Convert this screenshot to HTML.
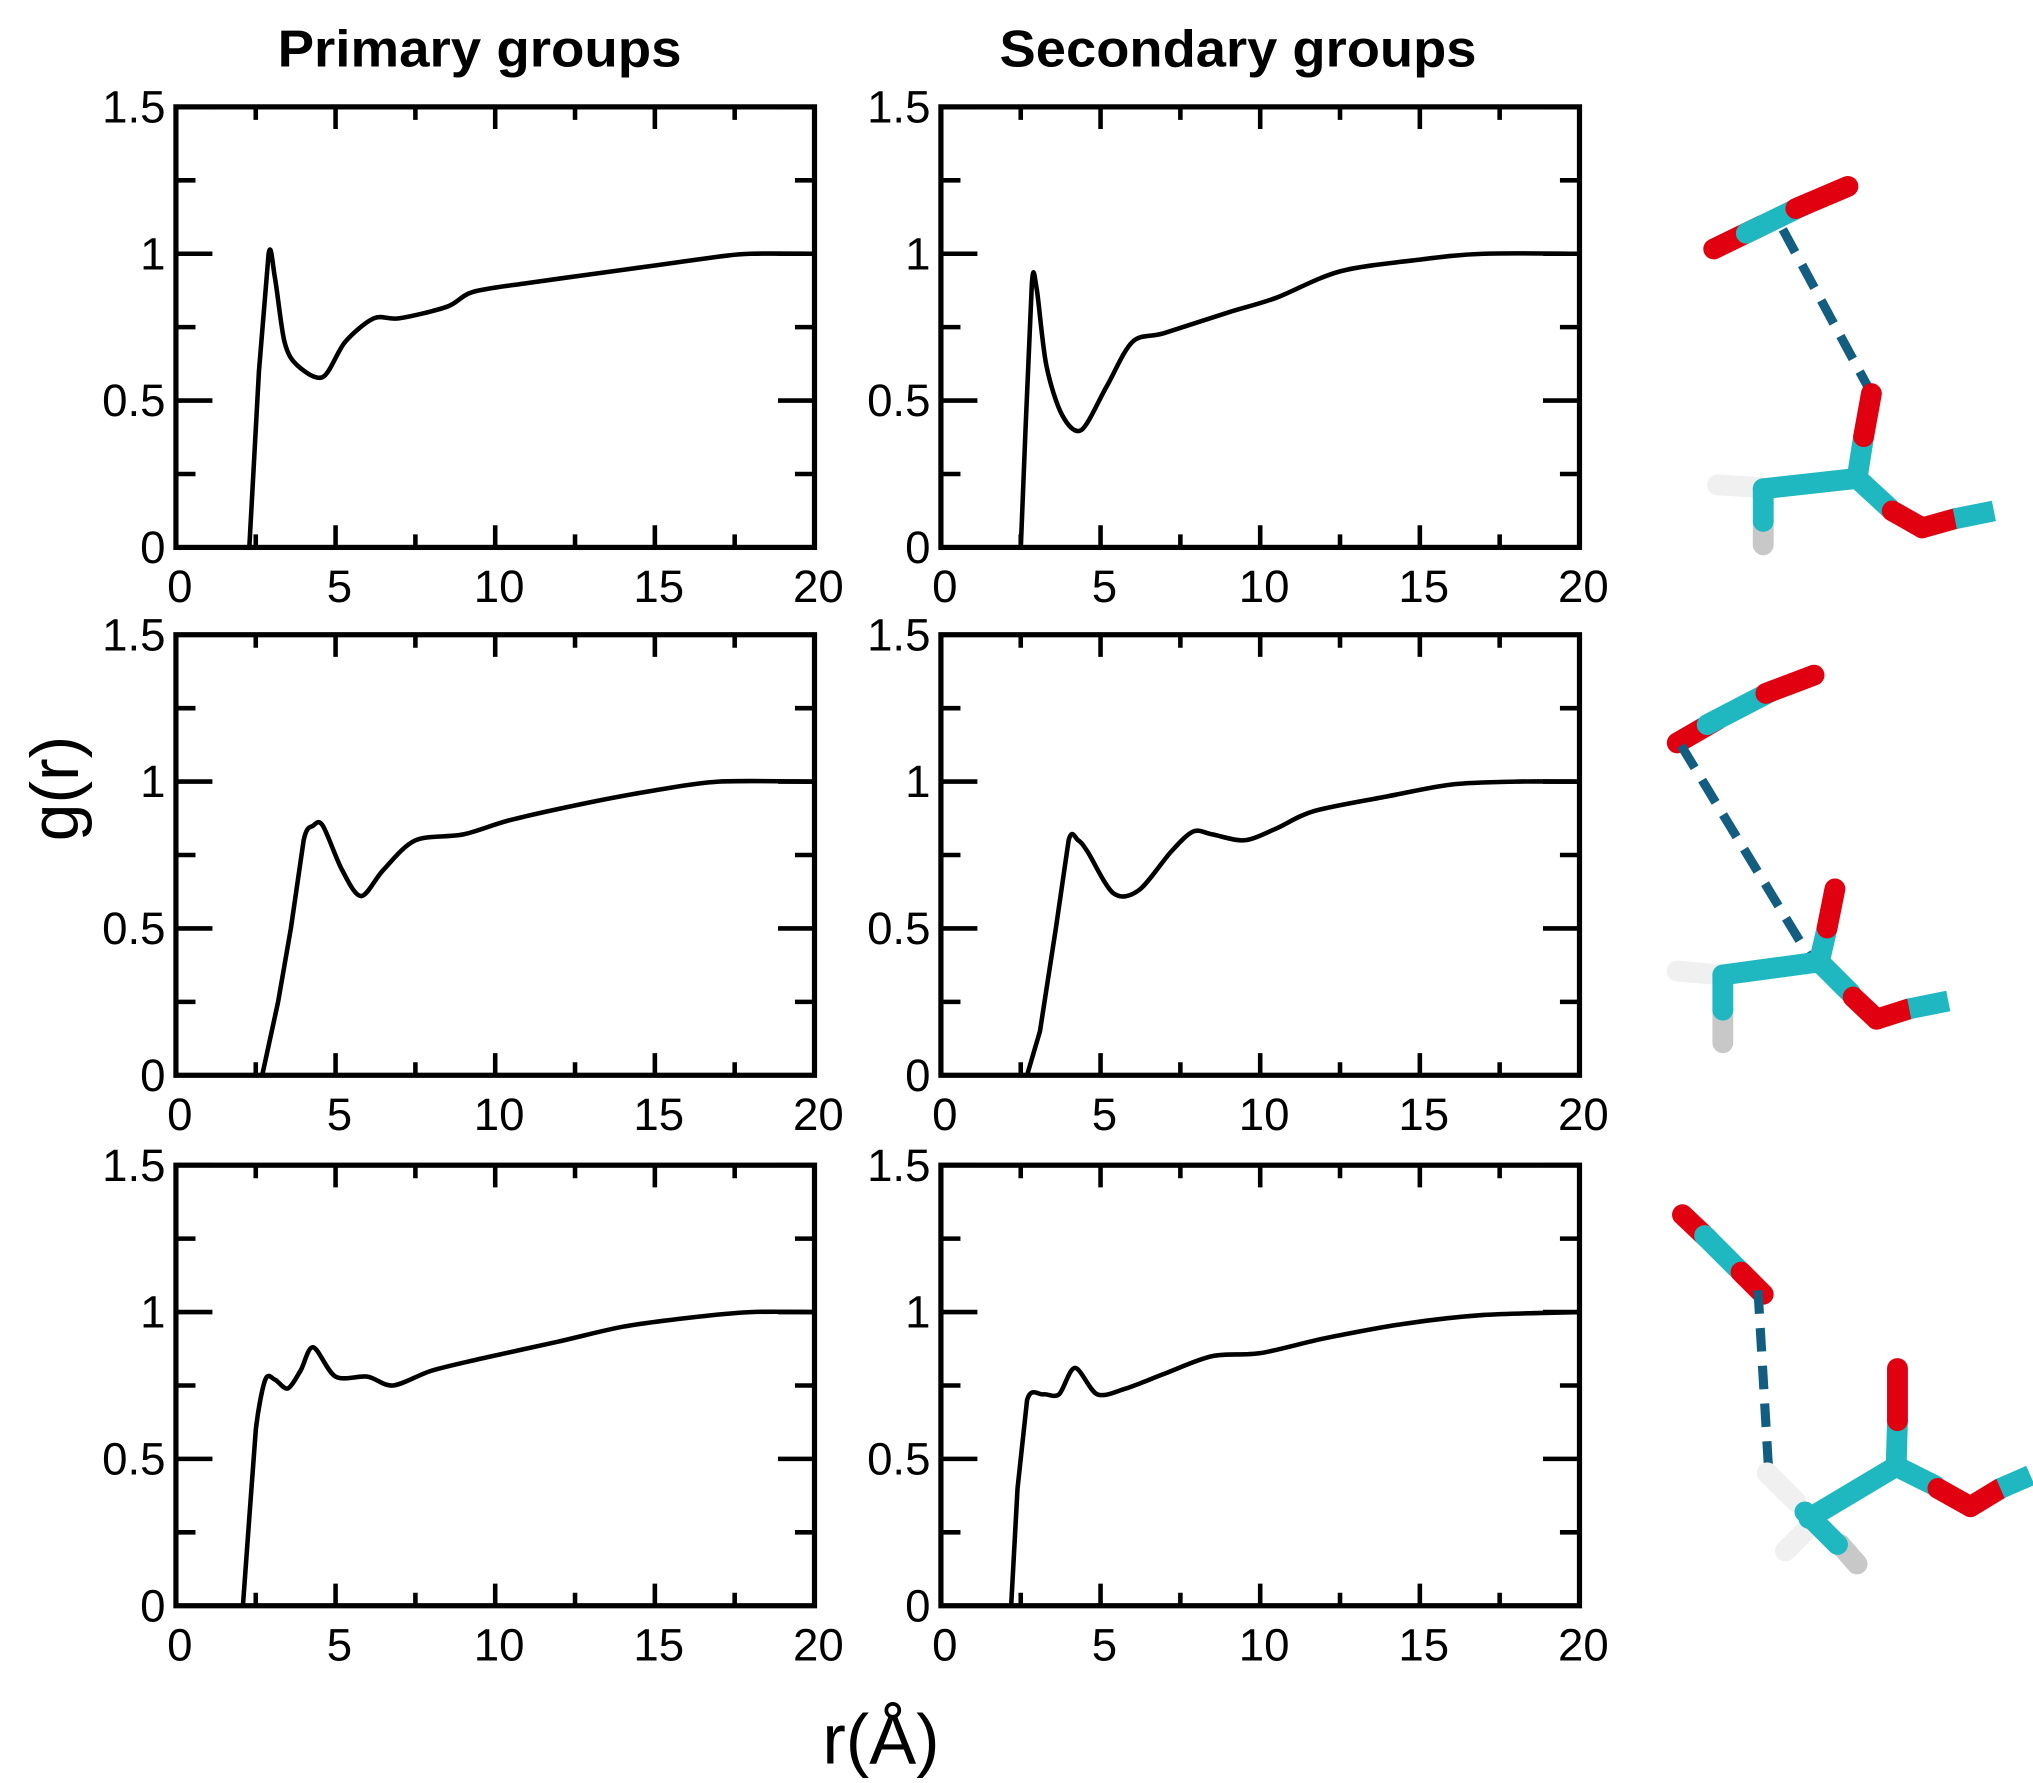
<!DOCTYPE html>
<html><head><meta charset="utf-8"><style>
html,body{margin:0;padding:0;background:#fff;}
svg{display:block;}
text{font-family:"Liberation Sans",sans-serif;}
</style></head><body>
<svg id="s" width="2033" height="1783" viewBox="0 0 1560 1368" preserveAspectRatio="none" xmlns="http://www.w3.org/2000/svg">
<text x="368" y="51" font-size="40" font-weight="bold" text-anchor="middle" textLength="310" lengthAdjust="spacingAndGlyphs">Primary groups</text>
<text x="950" y="51" font-size="40" font-weight="bold" text-anchor="middle" textLength="366" lengthAdjust="spacingAndGlyphs">Secondary groups</text>
<text x="0" y="0" font-size="52" text-anchor="middle" transform="translate(60,605) rotate(-90)">g(r)</text>
<text x="676" y="1353" font-size="54" text-anchor="middle">r(Å)</text>
<g id="plots"></g>
<g id="mol" stroke-linecap="round" fill="none">
<line x1="1315" y1="191" x2="1352" y2="173" stroke="#e00010" stroke-width="16"/>
<line x1="1340" y1="179" x2="1385" y2="157" stroke="#20b8c0" stroke-width="16"/>
<line x1="1378" y1="160" x2="1418" y2="143" stroke="#e00010" stroke-width="16"/>
<line x1="1368" y1="176" x2="1434" y2="298" stroke="#135e80" stroke-width="7" stroke-dasharray="20,11" stroke-linecap="butt"/>
<line x1="1318" y1="372" x2="1350" y2="374" stroke="#f0f0f0" stroke-width="16"/>
<line x1="1353" y1="400" x2="1353" y2="418" stroke="#c8c8c8" stroke-width="16"/>
<line x1="1353" y1="375" x2="1353" y2="400" stroke="#20b8c0" stroke-width="16"/>
<line x1="1353" y1="375" x2="1425" y2="367" stroke="#20b8c0" stroke-width="16"/>
<line x1="1425" y1="367" x2="1430" y2="335" stroke="#20b8c0" stroke-width="16"/>
<line x1="1430" y1="335" x2="1436" y2="302" stroke="#e00010" stroke-width="16"/>
<line x1="1425" y1="367" x2="1450" y2="390" stroke="#20b8c0" stroke-width="16"/>
<line x1="1452" y1="392" x2="1475" y2="405" stroke="#e00010" stroke-width="16"/>
<line x1="1475" y1="405" x2="1500" y2="398" stroke="#e00010" stroke-width="16"/>
<line x1="1500" y1="398" x2="1530" y2="392" stroke="#20b8c0" stroke-width="16" stroke-linecap="butt"/>
<line x1="1287" y1="570" x2="1318" y2="552" stroke="#e00010" stroke-width="16"/>
<line x1="1310" y1="556" x2="1360" y2="530" stroke="#20b8c0" stroke-width="16"/>
<line x1="1355" y1="532" x2="1392" y2="518" stroke="#e00010" stroke-width="16"/>
<line x1="1290" y1="572" x2="1392" y2="740" stroke="#135e80" stroke-width="7" stroke-dasharray="20,11" stroke-linecap="butt"/>
<line x1="1287" y1="745" x2="1320" y2="748" stroke="#f0f0f0" stroke-width="16"/>
<line x1="1322" y1="775" x2="1322" y2="800" stroke="#c8c8c8" stroke-width="16"/>
<line x1="1322" y1="748" x2="1322" y2="775" stroke="#20b8c0" stroke-width="16"/>
<line x1="1322" y1="748" x2="1396" y2="738" stroke="#20b8c0" stroke-width="16"/>
<line x1="1396" y1="738" x2="1402" y2="712" stroke="#20b8c0" stroke-width="16"/>
<line x1="1402" y1="712" x2="1408" y2="682" stroke="#e00010" stroke-width="16"/>
<line x1="1396" y1="738" x2="1420" y2="762" stroke="#20b8c0" stroke-width="16"/>
<line x1="1422" y1="765" x2="1440" y2="782" stroke="#e00010" stroke-width="16"/>
<line x1="1440" y1="782" x2="1465" y2="774" stroke="#e00010" stroke-width="16"/>
<line x1="1465" y1="774" x2="1495" y2="768" stroke="#20b8c0" stroke-width="16" stroke-linecap="butt"/>
<line x1="1291" y1="932" x2="1310" y2="950" stroke="#e00010" stroke-width="16"/>
<line x1="1308" y1="948" x2="1338" y2="978" stroke="#20b8c0" stroke-width="16"/>
<line x1="1336" y1="976" x2="1353" y2="993" stroke="#e00010" stroke-width="16"/>
<line x1="1349" y1="990" x2="1357" y2="1126" stroke="#135e80" stroke-width="7" stroke-dasharray="18,11" stroke-linecap="butt"/>
<line x1="1356" y1="1130" x2="1378" y2="1152" stroke="#f0f0f0" stroke-width="16"/>
<line x1="1370" y1="1190" x2="1385" y2="1175" stroke="#f0f0f0" stroke-width="16"/>
<line x1="1412" y1="1185" x2="1425" y2="1200" stroke="#c8c8c8" stroke-width="16"/>
<line x1="1385" y1="1160" x2="1410" y2="1185" stroke="#20b8c0" stroke-width="16"/>
<line x1="1388" y1="1165" x2="1455" y2="1125" stroke="#20b8c0" stroke-width="16"/>
<line x1="1455" y1="1125" x2="1456" y2="1090" stroke="#20b8c0" stroke-width="16"/>
<line x1="1456" y1="1090" x2="1456" y2="1050" stroke="#e00010" stroke-width="16"/>
<line x1="1455" y1="1125" x2="1485" y2="1140" stroke="#20b8c0" stroke-width="16"/>
<line x1="1487" y1="1142" x2="1512" y2="1156" stroke="#e00010" stroke-width="16"/>
<line x1="1512" y1="1156" x2="1535" y2="1142" stroke="#e00010" stroke-width="16"/>
<line x1="1535" y1="1142" x2="1558" y2="1132" stroke="#20b8c0" stroke-width="16" stroke-linecap="butt"/>
</g>
</svg>
<script>
var NS="http://www.w3.org/2000/svg";
var g=document.getElementById("plots");
var cols=[135,722], rows=[82,487,894], W=490, H=338;
// [data, number of leading linear segments]
var data=[
 [[[0,0],[2.3,0],[2.6,0.6],[2.9,1.0],[3.1,0.92],[3.4,0.7],[3.8,0.62],[4.6,0.58],[5.3,0.7],[6.2,0.78],[7,0.78],[8.5,0.82],[9.3,0.87],[11,0.9],[13,0.93],[15,0.96],[17,0.99],[18,1.0],[20,1.0]],3],
 [[[0,0],[2.5,0],[2.65,0.4],[2.85,0.9],[3.0,0.88],[3.3,0.62],[3.8,0.45],[4.4,0.4],[5.2,0.55],[6,0.7],[7,0.73],[9,0.8],[10.5,0.85],[12.5,0.94],[15,0.98],[17,1.0],[20,1.0]],3],
 [[[0,0],[2.7,0],[3.2,0.25],[3.6,0.5],[4.0,0.8],[4.3,0.85],[4.6,0.85],[5.2,0.7],[5.8,0.61],[6.5,0.7],[7.5,0.8],[9,0.82],[10.5,0.87],[13,0.93],[15,0.97],[17,1.0],[20,1.0]],4],
 [[[0,0],[2.7,0],[3.1,0.15],[3.6,0.5],[4.0,0.8],[4.3,0.8],[4.6,0.76],[5.4,0.62],[6.2,0.63],[7.2,0.76],[7.9,0.83],[8.5,0.82],[9.5,0.8],[10.5,0.84],[11.7,0.9],[14,0.95],[16,0.99],[18,1.0],[20,1.0]],4],
 [[[0,0],[2.1,0],[2.3,0.3],[2.5,0.6],[2.8,0.77],[3.1,0.77],[3.5,0.74],[3.9,0.8],[4.3,0.88],[5,0.78],[6,0.78],[6.8,0.75],[8,0.8],[9.5,0.84],[12,0.9],[14,0.95],[16,0.98],[18,1.0],[20,1.0]],3],
 [[[0,0],[2.2,0],[2.4,0.4],[2.7,0.7],[3.2,0.72],[3.7,0.72],[4.2,0.81],[4.9,0.72],[5.8,0.74],[7,0.79],[8.5,0.85],[10,0.86],[12,0.91],[14.5,0.96],[17,0.99],[20,1.0]],3]
];
function el(n,a,t){var e=document.createElementNS(NS,n);for(var k in a)e.setAttribute(k,a[k]);if(t!==undefined)e.textContent=t;g.appendChild(e);return e;}
var idx=0;
for(var r=0;r<3;r++)for(var c=0;c<2;c++){
 var X0=cols[c],Y0=rows[r];
 var sx=function(v){return X0+v*W/20;}, sy=function(v){return Y0+H-v*H/1.5;};
 var d="";
 for(var i=0;i<=8;i++){var x=X0+i*W/8, L=(i%2==0)?17:10;
  d+="M"+x+" "+(Y0+H)+"v-"+L+"M"+x+" "+Y0+"v"+L;}
 for(var i=0;i<=6;i++){var y=Y0+i*H/6, L=(i%2==0)?28:15;
  d+="M"+X0+" "+y+"h"+L+"M"+(X0+W)+" "+y+"h-"+L;}
 el("path",{d:d,stroke:"#000","stroke-width":3.5,fill:"none"});
 el("rect",{x:X0,y:Y0,width:W,height:H,fill:"none",stroke:"#000","stroke-width":4});
 ["0","5","10","15","20"].forEach(function(t,i){el("text",{x:X0+i*W/4+3,y:Y0+H+42,"font-size":35,"text-anchor":"middle"},t);});
 ["0","0.5","1","1.5"].forEach(function(t,i){el("text",{x:X0-8,y:Y0+H-i*H/3+12,"font-size":35,"text-anchor":"end"},t);});
 var dd=data[idx++], nl=dd[1];
 var p=dd[0].map(function(q){return [sx(q[0]),sy(q[1])];});
 var s="M"+p[0][0].toFixed(1)+" "+p[0][1].toFixed(1);
 for(var i=0;i<p.length-1;i++){
  var p1=p[i],p2=p[i+1];
  if(i<nl){s+="L"+p2[0].toFixed(1)+" "+p2[1].toFixed(1);continue;}
  var p0=p[Math.max(0,i-1)],p3=p[Math.min(p.length-1,i+2)];
  var t=0.15;
  var c1=[p1[0]+(p2[0]-p0[0])*t,p1[1]+(p2[1]-p0[1])*t];
  var c2=[p2[0]-(p3[0]-p1[0])*t,p2[1]-(p3[1]-p1[1])*t];
  s+="C"+c1[0].toFixed(1)+" "+c1[1].toFixed(1)+" "+c2[0].toFixed(1)+" "+c2[1].toFixed(1)+" "+p2[0].toFixed(1)+" "+p2[1].toFixed(1);
 }
 el("path",{d:s,stroke:"#000","stroke-width":3.5,fill:"none","stroke-linejoin":"round"});
}
</script>
</body></html>
